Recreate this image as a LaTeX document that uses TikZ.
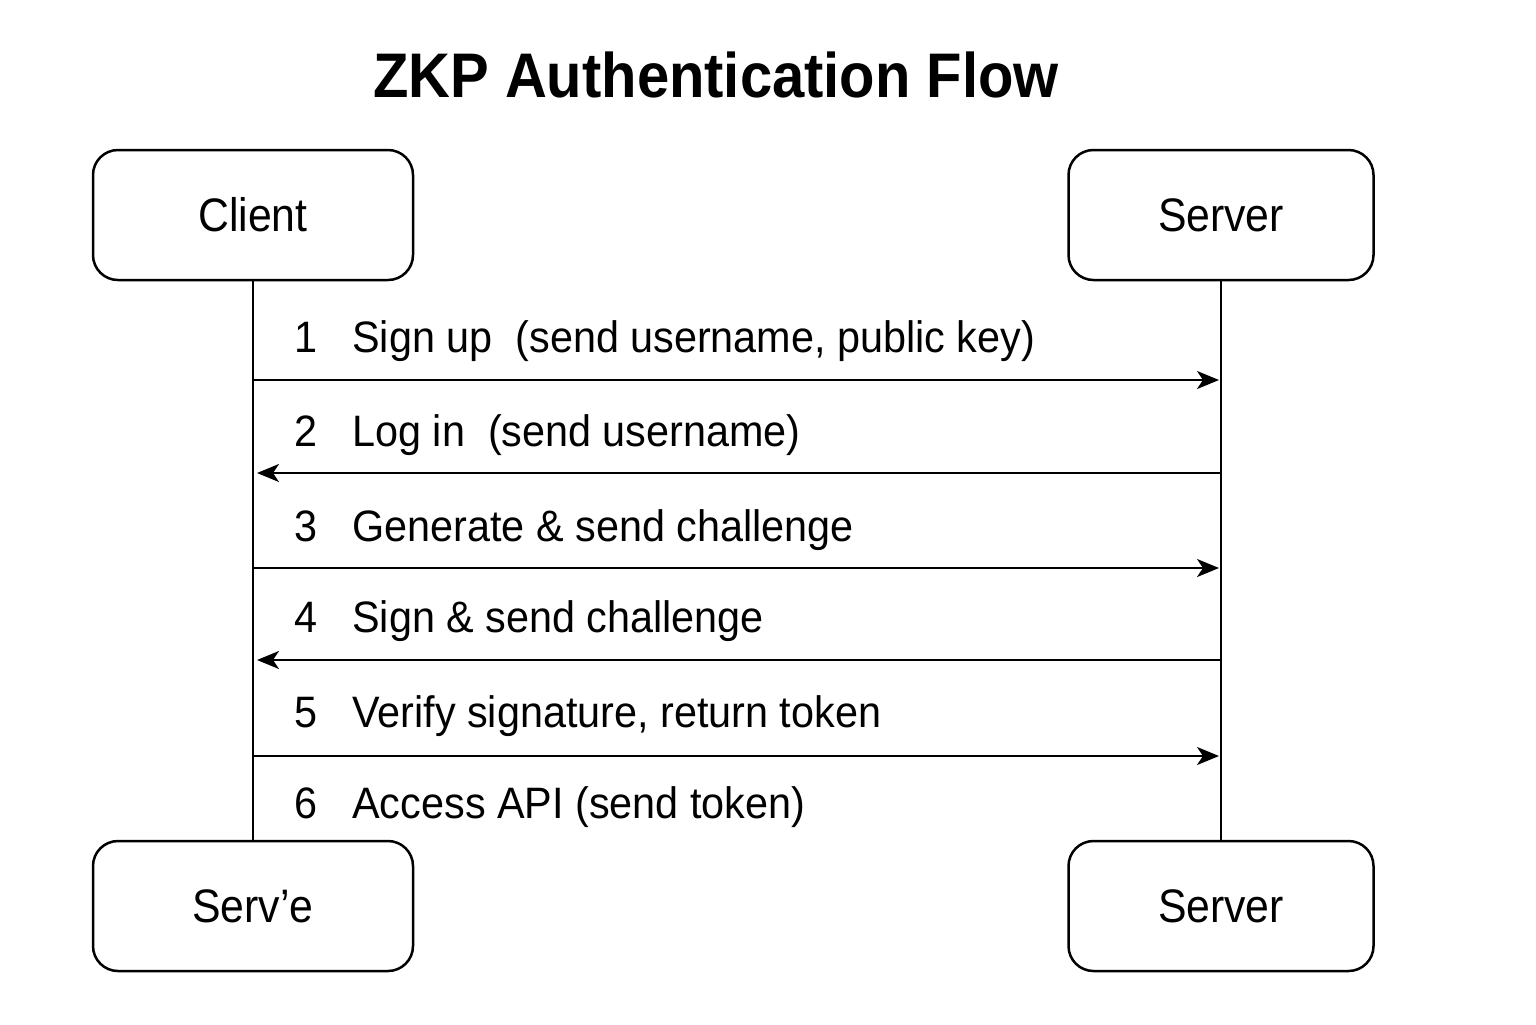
\documentclass[tikz,border=0pt]{standalone}
\usepackage{fontspec}
\setmainfont{Liberation Sans}
\newfontfamily\lblfont[FakeStretch=0.94]{Liberation Sans}
\newfontfamily\boxfont[FakeStretch=0.91]{Liberation Sans}
\newfontfamily\ttlfont[FakeStretch=0.92]{Liberation Sans}
\usetikzlibrary{arrows.meta}
\tikzset{
  actor/.style={draw, line width=1.25pt, rounded corners=12.5pt, minimum height=65pt, inner sep=0pt, font=\boxfont\fontsize{23.5}{26}\selectfont},
  actorL/.style={actor, minimum width=160pt},
  actorR/.style={actor, minimum width=152.5pt},
  life/.style={line width=1.2pt},
  msg/.style={line width=1.1pt, -{Stealth[length=11pt,width=9pt,inset=3pt]}},
  num/.style={anchor=base, inner sep=0pt, font=\lblfont\fontsize{22}{24}\selectfont},
  lbl/.style={anchor=base west, inner sep=0pt, font=\lblfont\fontsize{22}{24}\selectfont},
  ttl/.style={anchor=base, inner sep=0pt, font=\ttlfont\bfseries\fontsize{31.5}{34}\selectfont}
}
\begin{document}
\begin{tikzpicture}[x=0.5pt,y=-0.5pt]
\useasboundingbox (0,0) rectangle (1536,1024);
\node[ttl] (title) at (716,97) {ZKP Authentication Flow};
\node[actorL] (clientTop) at (253,215) {Client};
\node[actorR] (serverTop) at (1221,215) {Server};
\node[actorL] (clientBot) at (253,906) {Serv’e};
\node[actorR] (serverBot) at (1221,906) {Server};
\draw[life] (clientTop.south) -- (clientBot.north);
\draw[life] (serverTop.south) -- (serverBot.north);
\coordinate (c1) at (253,380); \coordinate (s1) at (1219,380);
\coordinate (c2) at (257,473); \coordinate (s2) at (1221,473);
\coordinate (c3) at (253,568); \coordinate (s3) at (1219,568);
\coordinate (c4) at (257,660); \coordinate (s4) at (1221,660);
\coordinate (c5) at (253,756); \coordinate (s5) at (1219,756);
\draw[msg] (c1) -- (s1);
\draw[msg] (s2) -- (c2);
\draw[msg] (c3) -- (s3);
\draw[msg] (s4) -- (c4);
\draw[msg] (c5) -- (s5);
\node[num] (n1) at (306,352) {1};
\node[lbl] (l1) at (352,352) {Sign up\ \ (send username, public key)};
\node[num] (n2) at (306,446) {2};
\node[lbl] (l2) at (352,446) {Log in\ \ (send username)};
\node[num] (n3) at (306,541) {3};
\node[lbl] (l3) at (352,541) {Generate \& send challenge};
\node[num] (n4) at (306,632) {4};
\node[lbl] (l4) at (352,632) {Sign \& send challenge};
\node[num] (n5) at (306,727) {5};
\node[lbl] (l5) at (352,727) {Verify signature, return token};
\node[num] (n6) at (306,818) {6};
\node[lbl] (l6) at (352,818) {Access API (send token)};
\end{tikzpicture}
\end{document}
